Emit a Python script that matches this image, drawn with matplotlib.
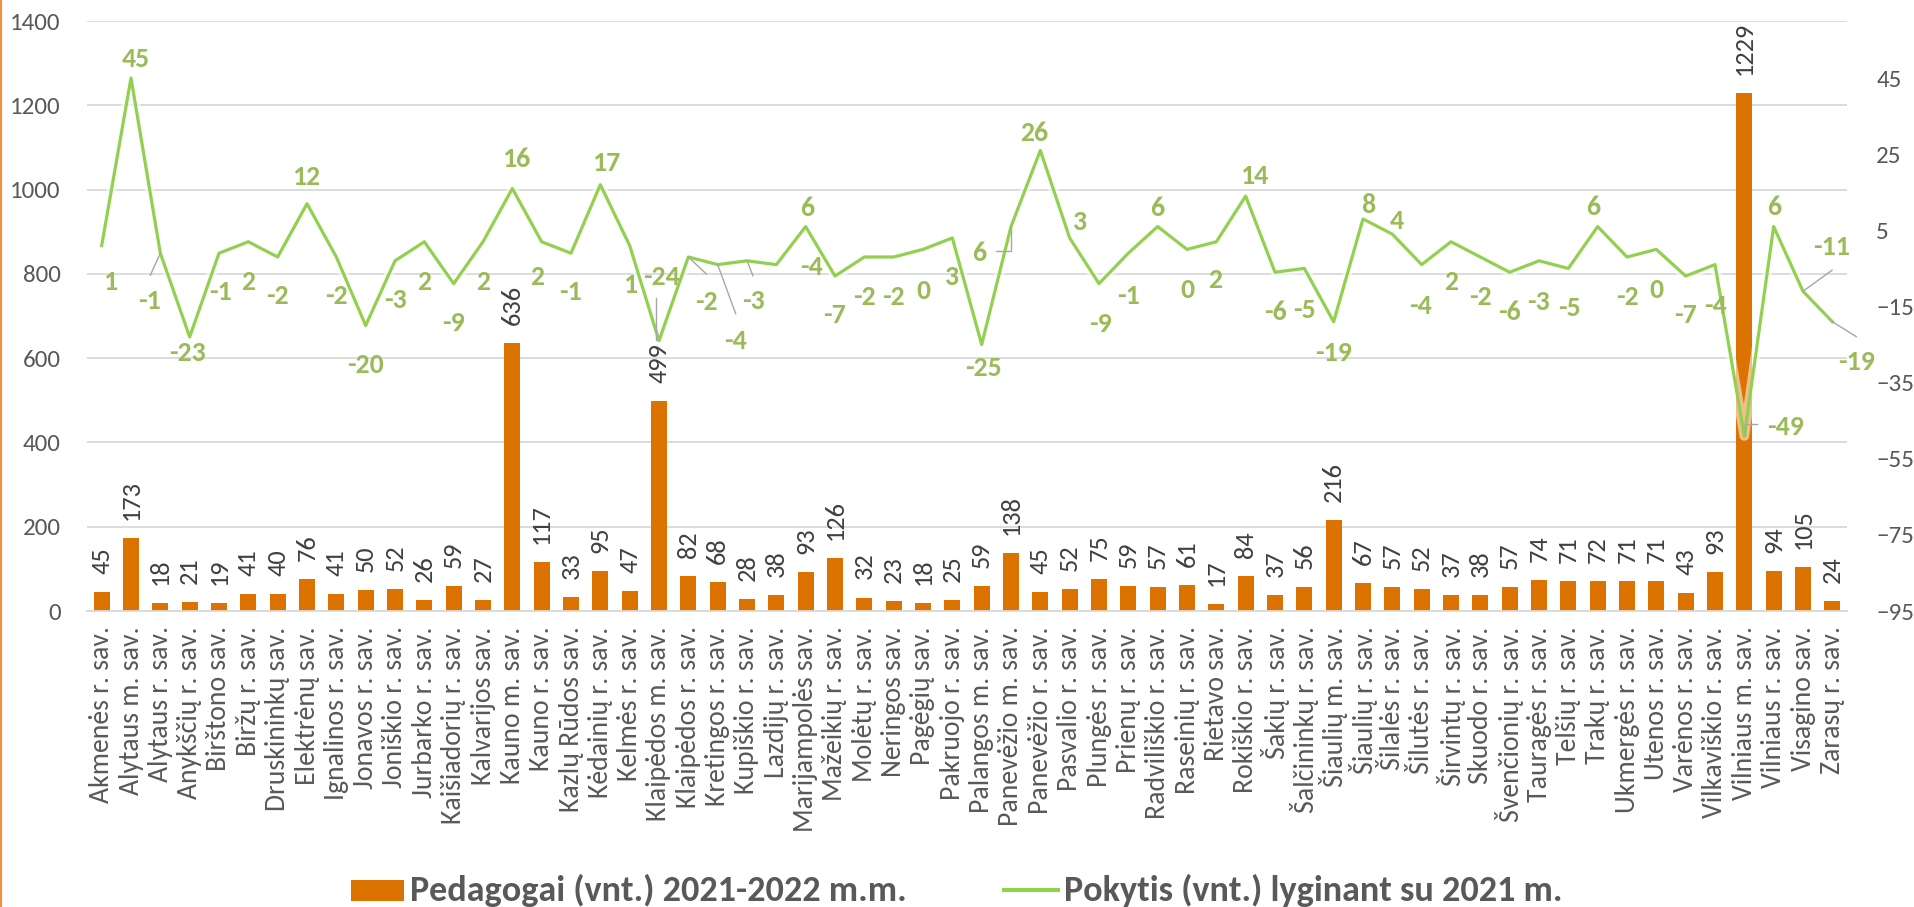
import matplotlib
matplotlib.use("Agg")
import matplotlib.pyplot as plt
from matplotlib import font_manager
from matplotlib.lines import Line2D
from matplotlib.patches import Rectangle
from matplotlib.transforms import IdentityTransform
import matplotlib.patheffects as pe

# ---------------- data ----------------
categories = [
    "Akmenės r. sav.", "Alytaus m. sav.", "Alytaus r. sav.", "Anykščių r. sav.", "Birštono sav.",
    "Biržų r. sav.", "Druskininkų sav.", "Elektrėnų sav.", "Ignalinos r. sav.", "Jonavos r. sav.",
    "Joniškio r. sav.", "Jurbarko r. sav.", "Kaišiadorių r. sav.", "Kalvarijos sav.", "Kauno m. sav.",
    "Kauno r. sav.", "Kazlų Rūdos sav.", "Kėdainių r. sav.", "Kelmės r. sav.", "Klaipėdos m. sav.",
    "Klaipėdos r. sav.", "Kretingos r. sav.", "Kupiškio r. sav.", "Lazdijų r. sav.", "Marijampolės sav.",
    "Mažeikių r. sav.", "Molėtų r. sav.", "Neringos sav.", "Pagėgių sav.", "Pakruojo r. sav.",
    "Palangos m. sav.", "Panevėžio m. sav.", "Panevėžio r. sav.", "Pasvalio r. sav.", "Plungės r. sav.",
    "Prienų r. sav.", "Radviliškio r. sav.", "Raseinių r. sav.", "Rietavo sav.", "Rokiškio r. sav.",
    "Šakių r. sav.", "Šalčininkų r. sav.", "Šiaulių m. sav.", "Šiaulių r. sav.", "Šilalės r. sav.",
    "Šilutės r. sav.", "Širvintų r. sav.", "Skuodo r. sav.", "Švenčionių r. sav.", "Tauragės r. sav.",
    "Telšių r. sav.", "Trakų r. sav.", "Ukmergės r. sav.", "Utenos r. sav.", "Varėnos r. sav.",
    "Vilkaviškio r. sav.", "Vilniaus m. sav.", "Vilniaus r. sav.", "Visagino sav.", "Zarasų r. sav.",
]
pedagogai = [
    45, 173, 18, 21, 19, 41, 40, 76, 41, 50,
    52, 26, 59, 27, 636, 117, 33, 95, 47, 499,
    82, 68, 28, 38, 93, 126, 32, 23, 18, 25,
    59, 138, 45, 52, 75, 59, 57, 61, 17, 84,
    37, 56, 216, 67, 57, 52, 37, 38, 57, 74,
    71, 72, 71, 71, 43, 93, 1229, 94, 105, 24,
]
pokytis = [
    1, 45, -1, -23, -1, 2, -2, 12, -2, -20,
    -3, 2, -9, 2, 16, 2, -1, 17, 1, -24,
    -2, -4, -3, -4, 6, -7, -2, -2, 0, 3,
    -25, 6, 26, 3, -9, -1, 6, 0, 2, 14,
    -6, -5, -19, 8, 4, -4, 2, -2, -6, -3,
    -5, 6, -2, 0, -7, -4, -49, 6, -11, -19,
]
left_ticks = [0, 200, 400, 600, 800, 1000, 1200, 1400]
right_ticks = [-95, -75, -55, -35, -15, 5, 25, 45]
legend_labels = ["Pedagogai (vnt.) 2021-2022 m.m.", "Pokytis (vnt.) lyginant su 2021 m."]

# ---------------- layout / style ----------------
# label offsets in pixels (dx right, dy down) relative to line point
label_offsets = [
    (8, 36), (5, -19), (-11, 48), (-2, 16), (1, 39), (0, 40), (0, 39), (-1, -27), (0, 39), (0, 39),
    (0, 39), (0, 40), (0, 39), (0, 40), (4, -29), (-5, 35), (-1, 39), (6, -22), (0, 39), (2, -64),
    (18, 45), (18, 76), (6, 40), (35, 2), (2, -19), (-1, 39), (0, 40), (0, 40), (0, 42), (0, 39),
    (2, 23), (-32, 26), (-6, -17), (10, -16), (1, 40), (0, 43), (0, -19), (0, 41), (-1, 38), (9, -20),
    (0, 40), (0, 42), (0, 31), (5, -14), (5, -13), (-1, 41), (0, 40), (0, 40), (0, 40), (-1, 41),
    (1, 40), (-4, -20), (0, 40), (0, 41), (0, 39), (0, 41), (41, -9), (1, -20), (29, -44), (24, 40),
]
# leader lines: index -> list of pixel offsets (dx, dy down) starting at the point
leaders = {
    2: [(0, 0), (-10, 22)],
    19: [(-3, -1), (-3, -43)],
    20: [(0, 0), (18, 17)],
    21: [(0, 0), (18, 49)],
    22: [(0, 0), (6, 15)],
    31: [(0, 0), (0, 24), (-15, 24)],
    56: [(1, 0), (1, -12), (13, -12)],
    58: [(0, 0), (29, -21)],
    59: [(0, 0), (24, 15)],
}

available = {f.name for f in font_manager.fontManager.ttflist}
FONT = "Carlito" if "Carlito" in available else "Lato"
plt.rcParams["font.family"] = [FONT, "DejaVu Sans"]

BAR_COLOR = "#DC7300"
LINE_COLOR = "#92D050"
LABEL_GREEN = "#9BBB59"
AXIS_TEXT = "#595959"
BAR_TEXT = "#404040"
GRID = "#D9D9D9"

W, H = 1915, 907
fig = plt.figure(figsize=(W / 100, H / 100), dpi=100)
L, R, B, T = 87, 1847, 611, 21
ax = fig.add_axes([L / W, 1 - B / H, (R - L) / W, (B - T) / H])
ax2 = ax.twinx()

x = list(range(len(categories)))
ax.bar(x, pedagogai, width=0.55, color=BAR_COLOR, zorder=2)
ax.set_xlim(-0.5, len(categories) - 0.5)
ax.set_ylim(0, 1400)
ax.set_yticks(left_ticks)
ax.yaxis.grid(True, color=GRID, linewidth=1.3, zorder=0)
ax.set_axisbelow(True)
for s in ax.spines.values():
    s.set_visible(False)
for s in ax2.spines.values():
    s.set_visible(False)
ax.spines["bottom"].set_visible(True)
ax.spines["bottom"].set_color(GRID)
ax.spines["bottom"].set_linewidth(1.3)

ax.set_xticks(x)
ax.set_xticklabels(categories, rotation=90, fontsize=20, color=AXIS_TEXT)
ax.tick_params(axis="x", length=0, pad=11)
ax.tick_params(axis="y", length=0, pad=19, labelsize=18, labelcolor=AXIS_TEXT)

# bar value labels
for xi, v in zip(x, pedagogai):
    ax.annotate(str(v), (xi, v), xytext=(0, 13), textcoords="offset points",
                rotation=90, ha="center", va="bottom", fontsize=19, color=BAR_TEXT,
                zorder=3)

# line on secondary axis
ax2.set_ylim(-95, 60)
ax2.set_yticks(right_ticks)
ax2.tick_params(axis="y", length=0, pad=21, labelsize=18, labelcolor=AXIS_TEXT)
ax2.plot(x, pokytis, color=LINE_COLOR, linewidth=2.3, zorder=4,
         path_effects=[pe.Stroke(linewidth=7, foreground="white", alpha=0.55), pe.Normal()])

for i, (xi, v) in enumerate(zip(x, pokytis)):
    dx, dy = label_offsets[i]
    ax2.annotate(str(v), (xi, v), xytext=(dx, -dy), textcoords="offset pixels",
                 ha="center", va="center", fontsize=20, fontweight="bold",
                 color=LABEL_GREEN, zorder=5)

fig.canvas.draw()
for i, pts in leaders.items():
    px, py = ax2.transData.transform((x[i], pokytis[i]))
    xs = [px + d[0] for d in pts]
    ys = [py - d[1] for d in pts]
    fig.add_artist(Line2D(xs, ys, transform=IdentityTransform(), color="#A6A6A6",
                          linewidth=1.0, zorder=6))

# legend (manual)
fig.add_artist(Rectangle((351 / W, 1 - 901 / H), 53 / W, 21 / H, transform=fig.transFigure,
                         facecolor=BAR_COLOR, edgecolor="none"))
fig.text(410 / W, 1 - 901 / H, legend_labels[0], ha="left", va="baseline",
         fontsize=26, fontweight="bold", color=AXIS_TEXT)
fig.add_artist(Line2D([1004 / W, 1058 / W], [1 - 890 / H, 1 - 890 / H], transform=fig.transFigure,
                      color=LINE_COLOR, linewidth=3))
fig.text(1064 / W, 1 - 901 / H, legend_labels[1], ha="left", va="baseline",
         fontsize=26, fontweight="bold", color=AXIS_TEXT)

# orange chart border on the left edge
fig.add_artist(Line2D([1 / W, 1 / W], [0, 1], transform=fig.transFigure,
                      color="#F0903C", linewidth=1.5))

fig.savefig("out.png", dpi=100)
